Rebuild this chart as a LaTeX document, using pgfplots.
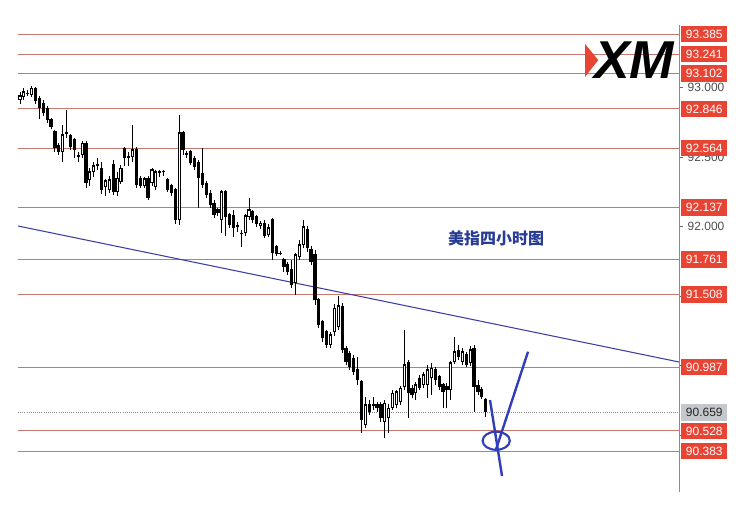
\documentclass[border=0pt]{standalone}
\usepackage{pgfplots}
\pgfplotsset{compat=1.18}
\usepackage{pgfplotstable}
\usepackage{fontspec}
\setmainfont{Liberation Sans}
\newfontfamily\cjk{Noto Sans CJK SC}
\definecolor{labred}{RGB}{232,68,52}
\definecolor{linered}{RGB}{196,120,110}
\definecolor{trendblue}{RGB}{62,62,165}
\definecolor{penblue}{RGB}{48,62,185}
\definecolor{cjkblue}{RGB}{40,60,150}
\definecolor{curgray}{RGB}{196,200,204}

\pgfplotstableread{
i o h l c
0 92.910 92.968 92.881 92.939
1 92.932 92.996 92.910 92.968
2 92.960 92.982 92.939 92.957
3 92.946 93.011 92.932 92.996
4 92.996 93.004 92.881 92.903
5 92.924 92.939 92.773 92.852
6 92.888 92.910 92.794 92.816
7 92.852 92.867 92.744 92.766
8 92.766 92.780 92.701 92.716
9 92.680 92.694 92.536 92.564
10 92.579 92.600 92.514 92.536
11 92.536 92.730 92.464 92.658
12 92.673 92.838 92.636 92.666
13 92.651 92.666 92.550 92.572
14 92.622 92.636 92.492 92.550
15 92.500 92.536 92.464 92.507
16 92.514 92.615 92.492 92.600
17 92.600 92.615 92.276 92.312
18 92.334 92.420 92.291 92.392
19 92.392 92.464 92.356 92.435
20 92.435 92.492 92.406 92.442
21 92.420 92.464 92.233 92.262
22 92.284 92.341 92.219 92.327
23 92.262 92.363 92.240 92.334
24 92.442 92.478 92.226 92.248
25 92.248 92.392 92.219 92.348
26 92.320 92.442 92.305 92.420
27 92.564 92.572 92.435 92.492
28 92.492 92.536 92.435 92.500
29 92.500 92.730 92.464 92.550
30 92.550 92.572 92.276 92.298
31 92.348 92.363 92.276 92.291
32 92.291 92.356 92.276 92.341
33 92.348 92.363 92.190 92.204
34 92.312 92.420 92.291 92.406
35 92.284 92.406 92.262 92.392
36 92.392 92.406 92.356 92.384
37 92.392 92.406 92.363 92.390
38 92.334 92.348 92.248 92.262
39 92.291 92.305 92.219 92.240
40 92.262 92.276 92.017 92.046
41 92.046 92.802 92.010 92.673
42 92.673 92.687 92.514 92.550
43 92.514 92.543 92.492 92.528
44 92.536 92.550 92.442 92.457
45 92.492 92.507 92.406 92.428
46 92.457 92.478 92.132 92.348
47 92.377 92.564 92.276 92.298
48 92.312 92.327 92.204 92.226
49 92.240 92.262 92.132 92.154
50 92.168 92.190 92.060 92.082
51 92.118 92.132 92.075 92.096
52 92.046 92.262 91.952 92.248
53 92.248 92.262 91.931 92.068
54 92.082 92.096 91.989 92.010
55 92.075 92.118 91.924 91.989
56 92.003 92.032 91.960 91.996
57 91.945 91.974 91.852 91.952
58 91.952 92.089 91.931 92.075
59 92.068 92.204 92.046 92.118
60 92.104 92.118 92.024 92.046
61 92.068 92.082 91.996 92.017
62 92.003 92.039 91.981 92.024
63 92.024 92.046 91.916 91.931
64 91.938 92.017 91.924 91.989
65 92.046 92.060 91.758 91.808
66 91.852 91.866 91.787 91.801
67 91.808 91.823 91.794 91.806
68 91.758 91.772 91.672 91.708
69 91.722 91.744 91.650 91.672
70 91.686 91.758 91.556 91.578
71 91.592 91.808 91.506 91.794
72 91.780 91.902 91.758 91.866
73 91.866 92.046 91.844 91.996
74 91.974 92.003 91.816 91.844
75 91.830 91.859 91.722 91.744
76 91.794 91.830 91.434 91.470
77 91.470 91.484 91.268 91.290
78 91.312 91.326 91.168 91.196
79 91.240 91.254 91.124 91.146
80 91.146 91.240 91.124 91.218
81 91.240 91.441 91.211 91.412
82 91.276 91.499 91.254 91.427
83 91.420 91.448 91.088 91.110
84 91.124 91.139 91.002 91.024
85 91.088 91.103 90.966 90.988
86 91.052 91.074 90.930 90.952
87 90.966 91.060 90.858 90.894
88 90.880 90.894 90.514 90.606
89 90.570 90.772 90.548 90.714
90 90.714 90.750 90.642 90.664
91 90.707 90.772 90.678 90.714
92 90.714 90.736 90.664 90.692
93 90.714 90.736 90.592 90.620
94 90.592 90.750 90.476 90.728
95 90.620 90.721 90.514 90.692
96 90.692 90.822 90.678 90.800
97 90.714 90.822 90.692 90.808
98 90.736 90.851 90.714 90.836
99 90.844 91.254 90.822 91.002
100 91.017 91.038 90.620 90.800
101 90.836 90.858 90.764 90.786
102 90.800 90.880 90.750 90.858
103 90.908 90.930 90.822 90.836
104 90.858 90.952 90.836 90.930
105 90.858 91.002 90.764 90.966
106 90.908 91.017 90.786 90.980
107 90.966 90.988 90.858 90.894
108 90.916 90.930 90.822 90.844
109 90.858 90.872 90.692 90.808
110 90.844 90.872 90.692 90.822
111 90.822 91.031 90.750 91.017
112 91.024 91.204 91.010 91.096
113 91.103 91.146 91.038 91.060
114 91.024 91.124 91.002 91.096
115 91.074 91.096 90.988 91.002
116 91.017 91.139 90.995 91.110
117 91.124 91.146 90.664 90.844
118 90.851 90.894 90.786 90.808
119 90.829 90.844 90.757 90.772
120 90.750 90.764 90.628 90.664
}\candles

\tikzset{lab/.style={fill=labred, text=white, anchor=west, minimum width=34.5pt,
  minimum height=12.5pt, inner sep=0pt, font=\fontsize{9}{10}\selectfont, xshift=1.5pt}}

\begin{document}
\begin{tikzpicture}
\useasboundingbox (-13.5pt,-20.25pt) rectangle (538.5pt,369pt);
\begin{axis}[
  scale only axis, width=495.75pt, height=350.25pt,
  at={(0,0)}, anchor=south west,
  xmin=-0.52, xmax=169.8, ymin=90.088, ymax=93.45,
  axis x line=none, axis y line*=right,
  axis line style={draw=black!45, line width=0.6pt},
  ytick={90.5,91,91.5,92,92.5,93},
  yticklabels={{},{},{},92.000,92.500,93.000},
  yticklabel style={font=\fontsize{9}{10}\selectfont, text=black!70},
  tick align=outside, major tick length=3pt, tick style={black!60},
  clip=false,
  after end axis/.code={
    \node[lab] at (axis cs:169.8,93.385) {93.385};
    \node[lab] at (axis cs:169.8,93.241) {93.241};
    \node[lab] at (axis cs:169.8,93.102) {93.102};
    \node[lab] at (axis cs:169.8,92.846) {92.846};
    \node[lab] at (axis cs:169.8,92.564) {92.564};
    \node[lab] at (axis cs:169.8,92.137) {92.137};
    \node[lab] at (axis cs:169.8,91.761) {91.761};
    \node[lab] at (axis cs:169.8,91.508) {91.508};
    \node[lab] at (axis cs:169.8,90.987) {90.987};
    \node[lab, fill=curgray, text=black!85] at (axis cs:169.8,90.659) {90.659};
    \node[lab] at (axis cs:169.8,90.528) {90.528};
    \node[lab] at (axis cs:169.8,90.383) {90.383};
  },
]
% horizontal levels
\addplot[linered, line width=0.7pt, forget plot] coordinates {(-0.52,93.385) (169.8,93.385)};
\addplot[linered, line width=0.7pt, forget plot] coordinates {(-0.52,93.241) (169.8,93.241)};
\addplot[linered, line width=0.7pt, forget plot] coordinates {(-0.52,93.102) (169.8,93.102)};
\addplot[linered, line width=0.7pt, forget plot] coordinates {(-0.52,92.846) (169.8,92.846)};
\addplot[linered, line width=0.7pt, forget plot] coordinates {(-0.52,92.564) (169.8,92.564)};
\addplot[linered, line width=0.7pt, forget plot] coordinates {(-0.52,92.137) (169.8,92.137)};
\addplot[linered, line width=0.7pt, forget plot] coordinates {(-0.52,91.761) (169.8,91.761)};
\addplot[linered, line width=0.7pt, forget plot] coordinates {(-0.52,91.508) (169.8,91.508)};
\addplot[linered, line width=0.7pt, forget plot] coordinates {(-0.52,90.987) (169.8,90.987)};
\addplot[linered, line width=0.7pt, forget plot] coordinates {(-0.52,90.528) (169.8,90.528)};
\addplot[linered, line width=0.7pt, forget plot] coordinates {(-0.52,90.383) (169.8,90.383)};
\addplot[black!45, densely dotted, line width=0.6pt, forget plot] coordinates {(-0.52,90.659) (169.8,90.659)};
% trend line
\addplot[trendblue, line width=0.8pt, forget plot] coordinates {(-0.52,92.003) (169.8,91.024)};
% wicks
\addplot[draw=none, no markers, forget plot,
  error bars/.cd, y dir=plus, y explicit, error mark=none,
  error bar style={draw=black, solid, line width=0.7pt}]
  table[x=i, y=l, y error expr=\thisrow{h}-\thisrow{l}] {\candles};
% bodies
\addplot[draw=none, no markers, forget plot,
  error bars/.cd, y dir=plus, y explicit, error mark=none,
  error bar style={draw=black, solid, line width=2.4pt}]
  table[x=i, y expr={min(\thisrow{o},\thisrow{c})}, y error expr={abs(\thisrow{c}-\thisrow{o})+0.004}] {\candles};
% hollow interior of rising candles
\addplot[draw=none, no markers, forget plot,
  restrict expr to domain={\thisrow{c}-\thisrow{o}}{0.016:10},
  error bars/.cd, y dir=plus, y explicit, error mark=none,
  error bar style={draw=white, solid, line width=0.8pt}]
  table[x=i, y expr={\thisrow{o}+0.006}, y error expr={\thisrow{c}-\thisrow{o}-0.012}] {\candles};
% hand-drawn marks
\addplot[penblue, line width=1.8pt, forget plot] coordinates {(121.1,90.750) (124.2,90.203)};
\addplot[penblue, line width=1.8pt, forget plot] coordinates {(122.6,90.390) (130.9,91.098)};
\draw[penblue, line width=1.6pt] (axis cs:122.7,90.457) ellipse [x radius=10.2pt, y radius=6.8pt];
% caption
\node[text=cjkblue, font=\cjk\bfseries\fontsize{12}{12}\selectfont] at (axis cs:122.7,91.916) {美指四小时图};
% logo
\fill[labred] (axis cs:145.6,93.313) -- (axis cs:149.0,93.198) -- (axis cs:145.6,93.076) -- cycle;
\node[font=\fontsize{40}{40}\selectfont\bfseries\itshape, inner sep=0pt] at (axis cs:158.3,93.195) {XM};
\end{axis}
\end{tikzpicture}
\end{document}
